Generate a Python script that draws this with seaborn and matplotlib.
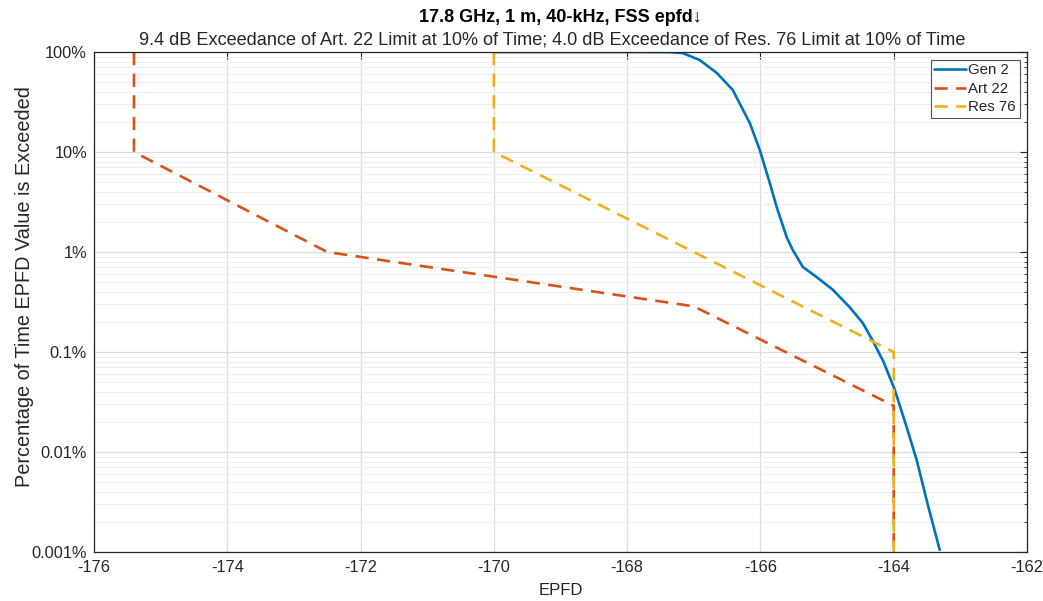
import numpy as np
import pandas as pd
import matplotlib
matplotlib.use("Agg")
import matplotlib.pyplot as plt
import seaborn as sns
from matplotlib.ticker import FixedLocator, FixedFormatter, LogLocator, NullFormatter

# ---- data ----
gen2_epfd = [-170.0, -169.0, -168.0, -167.6, -167.35, -167.165, -166.91, -166.655, -166.415,
             -166.16, -166.01, -165.86, -165.755, -165.605, -165.515, -165.365, -165.155,
             -164.915, -164.66, -164.465, -164.315, -164.15, -163.985, -163.82, -163.655,
             -163.49, -163.31]
gen2_pct = [100, 100, 100, 99.9, 99.5, 97.5, 83, 61.7, 41.7,
            19.5, 10.5, 4.9, 2.8, 1.4, 1.05, 0.71, 0.56,
            0.42, 0.28, 0.195, 0.13, 0.079, 0.042, 0.019, 0.0083,
            0.0030, 0.00105]

art22_epfd = [-175.4, -175.4, -172.5, -167.0, -164.0, -164.0]
art22_pct = [100, 10, 1, 0.286, 0.029, 0.001]

res76_epfd = [-170.0, -170.0, -164.0, -164.0]
res76_pct = [100, 10, 0.1, 0.001]

series_names = ["Gen 2", "Art 22", "Res 76"]
title = "17.8 GHz, 1 m, 40-kHz, FSS epfd\u2193"
subtitle = "9.4 dB Exceedance of Art. 22 Limit at 10% of Time; 4.0 dB Exceedance of Res. 76 Limit at 10% of Time"
x_ticks = [-176, -174, -172, -170, -168, -166, -164, -162]
y_ticks = [0.001, 0.01, 0.1, 1, 10, 100]
y_labels = ["0.001%", "0.01%", "0.1%", "1%", "10%", "100%"]

df = pd.concat([
    pd.DataFrame({"EPFD": gen2_epfd, "pct": gen2_pct, "series": series_names[0]}),
    pd.DataFrame({"EPFD": art22_epfd, "pct": art22_pct, "series": series_names[1]}),
    pd.DataFrame({"EPFD": res76_epfd, "pct": res76_pct, "series": series_names[2]}),
], ignore_index=True)

sns.set_style("white")
plt.rcParams["font.family"] = ["Liberation Sans", "DejaVu Sans"]

W, H = 1043, 601
L, R, T, B = 94, 1027, 52, 552
fig = plt.figure(figsize=(W / 100, H / 100), dpi=100)
ax = fig.add_axes([L / W, 1 - B / H, (R - L) / W, (B - T) / H])

palette = {"Gen 2": "#0072BD", "Art 22": "#D95319", "Res 76": "#EDB120"}
dashes = {"Gen 2": "", "Art 22": (5, 3.2), "Res 76": (5, 3.2)}
sns.lineplot(data=df, x="EPFD", y="pct", hue="series", style="series",
             sort=False, estimator=None, palette=palette, dashes=dashes,
             linewidth=1.9, ax=ax, legend=True)

ax.set_yscale("log")
ax.set_xlim(-176, -162)
ax.set_ylim(0.001, 100)
ax.xaxis.set_major_locator(FixedLocator(x_ticks))
ax.set_xticklabels([str(t) for t in x_ticks])
ax.yaxis.set_major_locator(FixedLocator(y_ticks))
ax.yaxis.set_major_formatter(FixedFormatter(y_labels))
ax.yaxis.set_minor_locator(LogLocator(base=10, subs=np.arange(2, 10)))
ax.yaxis.set_minor_formatter(NullFormatter())

ax.grid(True, which="major", color="#dcdcdc", linewidth=0.9)
ax.grid(True, which="minor", axis="y", color="#efefef", linewidth=0.8)
ax.set_axisbelow(True)

for s in ax.spines.values():
    s.set_color("#262626")
    s.set_linewidth(0.9)
    s.set_visible(True)
ax.tick_params(axis="both", which="both", direction="in", top=True, right=True,
               colors="#262626", labelsize=11.8)
ax.tick_params(which="major", length=5)
ax.tick_params(which="minor", length=2.5)
ax.tick_params(axis="x", pad=6)
ax.tick_params(axis="y", pad=5)

ax.set_xlabel("EPFD", fontsize=12, color="#262626")
ax.set_ylabel("Percentage of Time EPFD Value is Exceeded", fontsize=14.3, color="#262626")
ax.xaxis.set_label_coords(0.5, -0.062)
ax.yaxis.set_label_coords(-0.064, 0.53)

xc = (L + R) / 2 / W
fig.text(xc, 1 - 17 / H, title, ha="center", va="center",
         fontsize=13, fontweight="bold", color="black")
fig.text(552 / W, 1 - 40 / H, subtitle, ha="center", va="center",
         fontsize=13.1, color="#262626")

leg = ax.legend(loc="upper right", fontsize=10.8, frameon=True, fancybox=False,
                borderaxespad=0.5, handlelength=2.1, handletextpad=0.15,
                borderpad=0.25, labelspacing=0.3)
leg.get_frame().set_edgecolor("#262626")
leg.get_frame().set_linewidth(0.8)
leg.set_title(None)

fig.savefig("out.png", dpi=100)
